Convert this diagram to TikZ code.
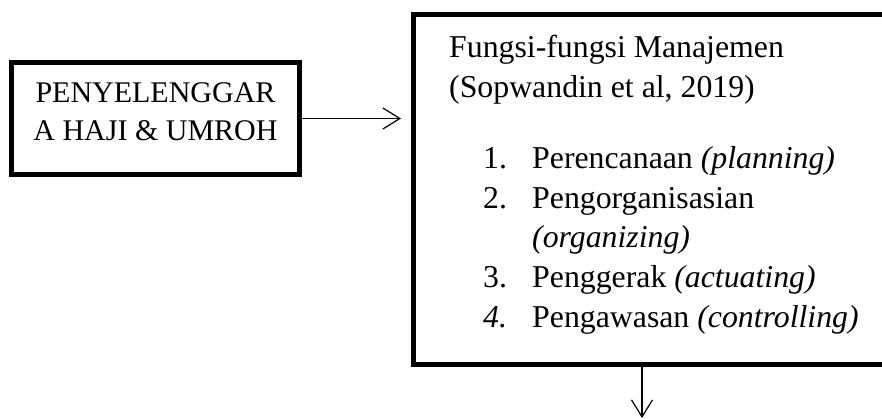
\documentclass[tikz,border=0pt]{standalone}
\usepackage{fontspec}
\setmainfont{Liberation Serif}
\usetikzlibrary{arrows.meta}
\begin{document}
\begin{tikzpicture}[x=1pt,y=-1pt,
  box/.style={draw, line width=5pt, inner sep=0pt},
  txt/.style={anchor=base west, inner sep=0pt, font=\fontsize{31.8}{40}\selectfont},
  ctxt/.style={anchor=base, inner sep=0pt, font=\fontsize{30}{40}\selectfont},
  conn/.style={line width=1.2pt, -{Straight Barb[length=17pt,width=21pt]}}]
\useasboundingbox (0,0) rectangle (882,418);
\clip (0,0) rectangle (882,418);
% boxes
\node[box, minimum width=288pt, minimum height=112pt] (lbox) at (155.5,118.5) {};
\node[box, minimum width=486pt, minimum height=350pt] (rbox) at (656.5,189.5) {};
% left text
\node[ctxt] (l1) at (155.5,102) {PENYELENGGAR};
\node[ctxt] (l2) at (155.5,140) {A HAJI \& UMROH};
% right text
\node[txt] (t1) at (449,57) {Fungsi-fungsi Manajemen};
\node[txt] (t2) at (449,97) {(Sopwandin et al, 2019)};
\node[txt] (n1) at (483,168) {1.};
\node[txt] (i1) at (532,168) {Perencanaan \textit{(planning)}};
\node[txt] (n2) at (483,208) {2.};
\node[txt] (i2) at (532,208) {Pengorganisasian};
\node[txt] (i2b) at (532,247) {\textit{(organizing)}};
\node[txt] (n3) at (483,287) {3.};
\node[txt] (i3) at (532,287) {Penggerak \textit{(actuating)}};
\node[txt] (n4) at (483,327) {\textit{4.}};
\node[txt] (i4) at (532,327) {Pengawasan \textit{(controlling)}};
% connectors
\draw[conn, shorten >=10pt] (lbox.east) -- (lbox.east -| rbox.west);
\coordinate (dend) at (642,418);
\draw[conn] (rbox.south -| dend) -- (dend);
\end{tikzpicture}
\end{document}
